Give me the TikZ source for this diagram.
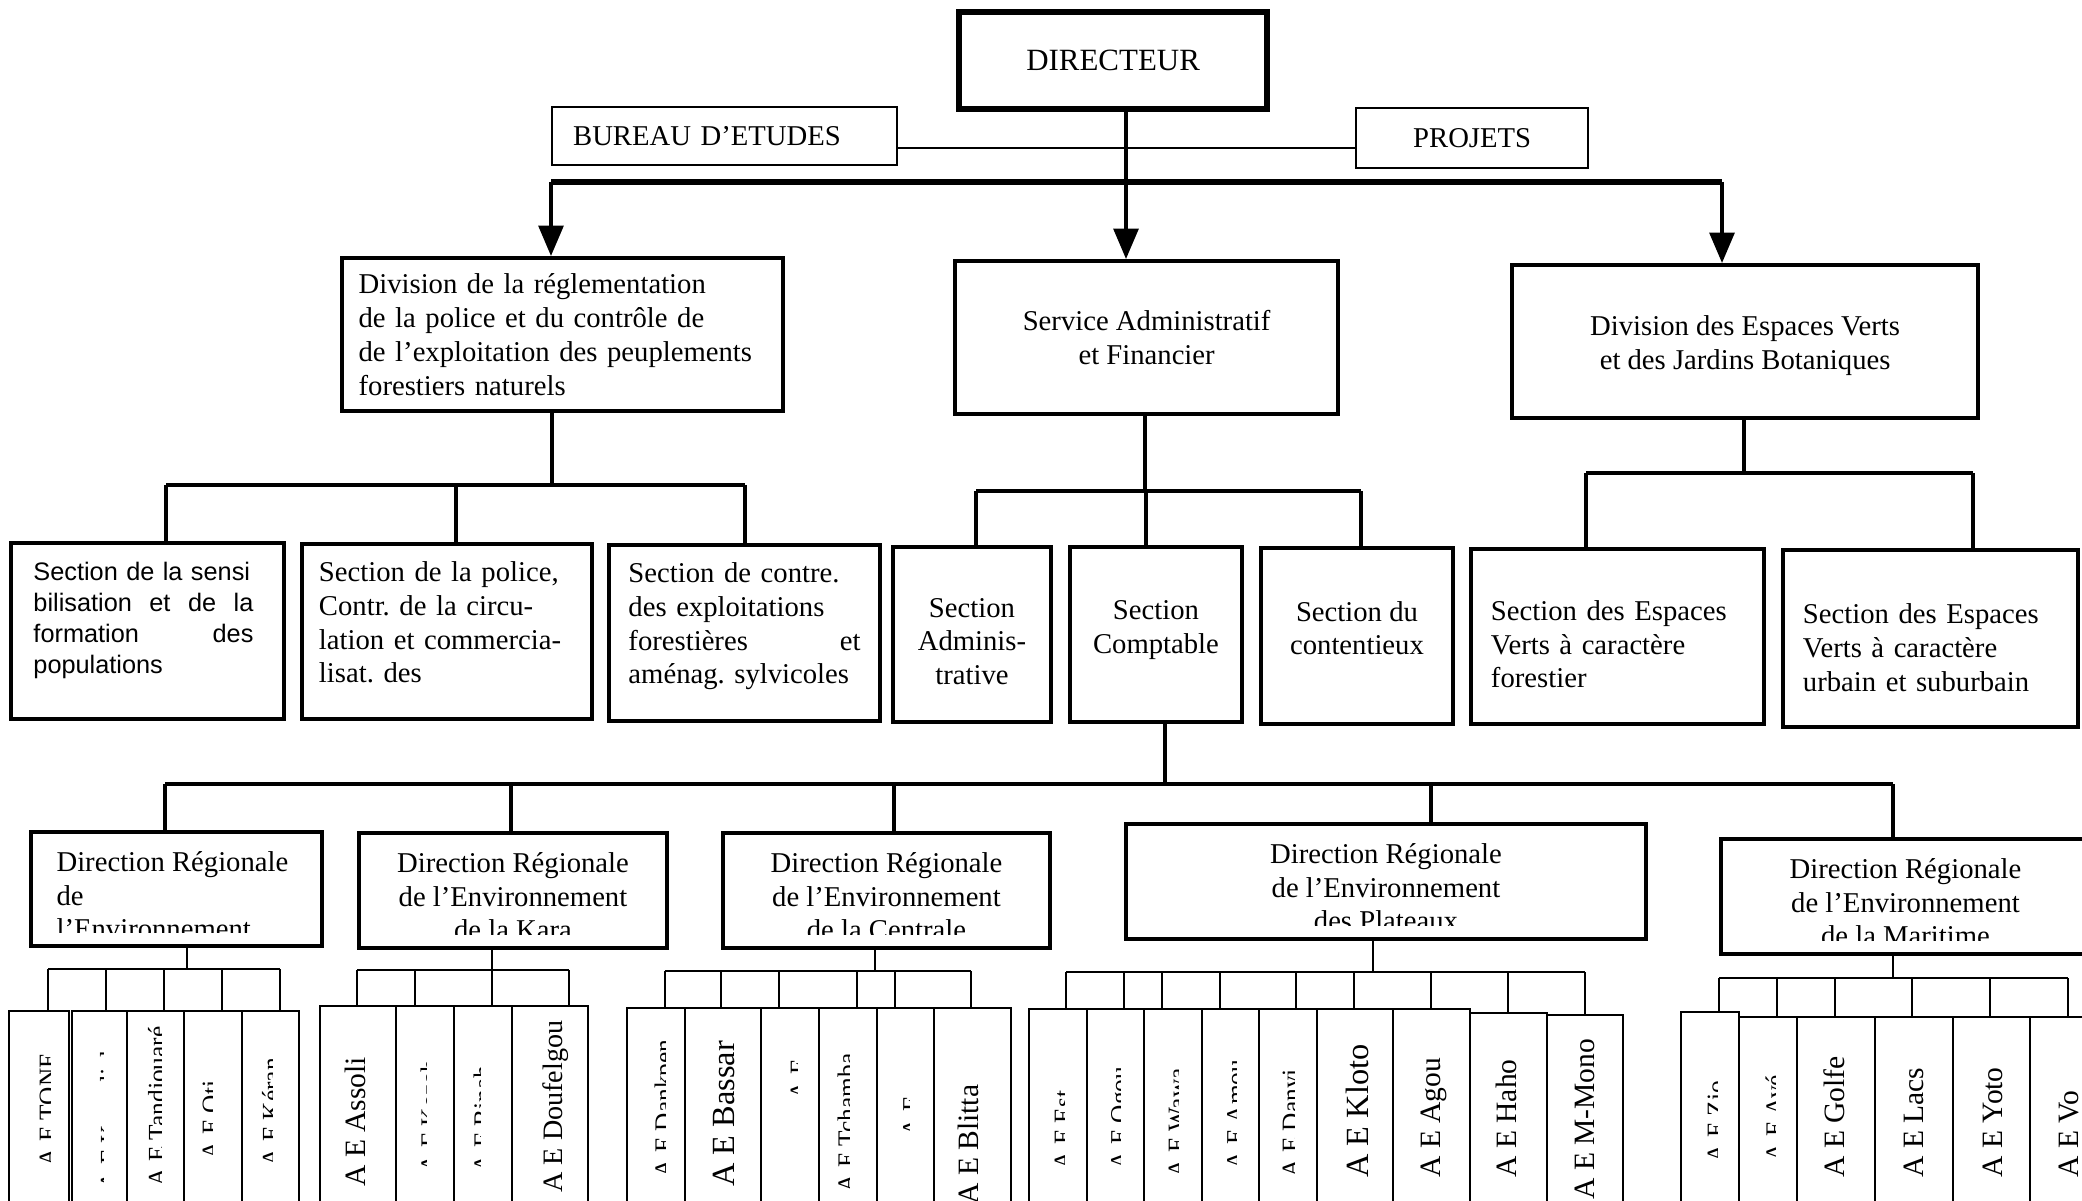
\documentclass[tikz,border=0pt]{standalone}
\usepackage{fontspec}
\setmainfont{Liberation Serif}
\newfontfamily\arialfont{Liberation Sans}
\usetikzlibrary{arrows.meta,calc}
\tikzset{
  boite/.style={draw, anchor=north west, line width=1.4pt, inner sep=2pt, font=\fontsize{10.2}{12}\selectfont},
  drtxt/.style={anchor=north, align=center, inner sep=0pt, font=\fontsize{10.2}{12}\selectfont},
  aebox/.style={draw, anchor=north west, line width=0.7pt, inner sep=0pt},
  aetxt/.style={rotate=90, anchor=north west, inner sep=0pt},
  fleche/.style={line width=1.3pt, -{Triangle[length=3.8mm, width=3.1mm]}},
  liaison/.style={line width=1.2pt},
  peigne/.style={line width=0.7pt}
}
\begin{document}
\frenchspacing
\begin{tikzpicture}[x=0.125mm, y=-0.125mm]
\useasboundingbox (0,0) rectangle (2082,1201);
\clip (0,0) rectangle (2082,1201);
% Direction et organes rattaches
\node[boite, line width=2.2pt, minimum width=3.85cm, minimum height=1.2125cm, font=\fontsize{11}{13}\selectfont] (dir) at (956,9) {DIRECTEUR};
\node[boite, line width=0.8pt, minimum width=4.3125cm, minimum height=0.725cm, text width=3.7875cm, inner xsep=0.2625cm, align=left] (bureau) at (551,106) {BUREAU D’ETUDES};
\node[boite, line width=0.8pt, minimum width=2.9cm, minimum height=0.75cm] (projets) at (1355,107) {PROJETS};
\coordinate (axe) at (1126,148);
\draw[line width=0.8pt] (axe -| bureau.east) -- (axe -| projets.west);
% Divisions et service
\node[boite, line width=1.5pt, minimum width=5.5125cm, minimum height=1.9125cm, text width=5.1cm, inner xsep=0.2cm, align=left] (reglem) at (340,256) {Division de la réglementation\\de la police et du contrôle de\\de l’exploitation des peuplements\\forestiers naturels};
\node[boite, line width=1.5pt, minimum width=4.7875cm, minimum height=1.9125cm, align=center] (service) at (953,259) {Service Administratif\\et Financier};
\node[boite, line width=1.5pt, minimum width=5.825cm, minimum height=1.9125cm, align=center] (espaces) at (1510,263) {\mbox{}\\[-2.2pt]Division des Espaces Verts\\et des Jardins Botaniques};
\coordinate (barre) at (1126,182);
\coordinate (barreG) at (551,182);
\coordinate (barreD) at (1722,182);
\draw[line width=1.3pt] (dir.south -| barre) -- (barre);
\draw[line width=2.1pt] (barreG) -- (barreD);
\draw[fleche] (barreG) -- (barreG |- reglem.north);
\draw[fleche] (barre) -- (barre |- service.north);
\draw[fleche] (barreD) -- (barreD |- espaces.north);
% Sections
\node[boite, minimum width=3.4125cm, minimum height=2.2cm, text width=2.85cm, inner xsep=0.28cm, align=left, font=\arialfont\fontsize{9}{11}\selectfont] (sens) at (9,541) {Section de la sensi\\\leavevmode\hbox to 2.75cm{bilisation\hfill et\hfill de\hfill la}\\\leavevmode\hbox to 2.75cm{formation\hfill des}\\populations\\[-1.5pt]\mbox{}};
\node[boite, minimum width=3.625cm, minimum height=2.1875cm, text width=3.2cm, inner xsep=0.2cm, align=left] (police) at (300,542) {Section de la police,\\Contr. de la circu-\\lation et commercia-\\lisat. des\\[-5.4pt]\mbox{}};
\node[boite, minimum width=3.3875cm, minimum height=2.2cm, text width=2.9cm, inner xsep=0.24cm, align=left] (controle) at (607,543) {Section de contre.\\des exploitations\\forestières\hfill et\\aménag. sylvicoles\\[-5.1pt]\mbox{}};
\node[boite, minimum width=1.975cm, minimum height=2.1875cm, align=center] (admin) at (891,545) {\mbox{}\\[-0.3pt]Section\\Adminis-\\trative};
\node[boite, minimum width=2.15cm, minimum height=2.1875cm, align=center] (compta) at (1068,545) {Section\\Comptable\\[-6.5pt]\mbox{}};
\node[boite, minimum width=2.4cm, minimum height=2.2cm, align=center] (contentieux) at (1259,546) {Section du\\contentieux\\[-6.3pt]\mbox{}};
\node[boite, minimum width=3.6625cm, minimum height=2.1875cm, text width=3.1625cm, inner xsep=0.25cm, align=left] (forest) at (1469,547) {\mbox{}\\[0.7pt]Section des Espaces\\Verts à caractère\\forestier};
\node[boite, minimum width=3.6875cm, minimum height=2.2125cm, text width=3.1875cm, inner xsep=0.25cm, align=left] (urbain) at (1781,548) {\mbox{}\\[1.6pt]Section des Espaces\\Verts à caractère\\urbain et suburbain};
\coordinate (rg) at (552,485);
\coordinate (rg1) at (166,485); \coordinate (rg2) at (456,485); \coordinate (rg3) at (745,485);
\coordinate (sv) at (1145,491);
\coordinate (sv1) at (976,491); \coordinate (sv2) at (1146,491); \coordinate (sv3) at (1361,491);
\coordinate (ev) at (1744,473);
\coordinate (ev1) at (1586,473); \coordinate (ev2) at (1973,473);
\draw[liaison] (reglem.south -| rg) -- (rg);
\draw[liaison] (service.south -| sv) -- (sv);
\draw[liaison] (espaces.south -| ev) -- (ev);
\draw[liaison] (rg1) -- (rg3);
\draw[liaison] (sv1) -- (sv3);
\draw[liaison] (ev1) -- (ev2);
\foreach \c/\b in {rg1/sens, rg2/police, rg3/controle, sv1/admin, sv2/compta, sv3/contentieux, ev1/forest, ev2/urbain}
  \draw[liaison] (\c) -- (\c |- \b.north);
% Directions regionales
\node[boite, minimum width=3.6375cm, minimum height=1.425cm] (drsav) at (29,830) {};
\node[boite, minimum width=3.85cm, minimum height=1.4375cm] (drkara) at (357,831) {};
\node[boite, minimum width=4.0875cm, minimum height=1.4375cm] (drcent) at (721,831) {};
\node[boite, minimum width=6.5cm, minimum height=1.4375cm] (drplat) at (1124,822) {};
\node[boite, minimum width=4.6125cm, minimum height=1.4375cm] (drmar) at (1719,837) {};
\begin{scope}
  \clip ([yshift=1.9mm]drsav.south west) rectangle (drsav.north east);
  \node[drtxt, anchor=north west, align=left] (drsav-t) at ([xshift=3.375mm, yshift=-2.6mm]drsav.north west) {Direction Régionale\\de\\l’Environnement};
\end{scope}
\foreach \b/\lab in {drkara/de la Kara, drcent/de la Centrale, drplat/des Plateaux, drmar/de la Maritime}{
  \begin{scope}
    \clip ([yshift=1.9mm]\b.south west) rectangle (\b.north east);
    \node[drtxt] (\b-t) at ([yshift=-2.6mm]\b.north) {Direction Régionale\\de l’Environnement\\\lab};
  \end{scope}
}
\coordinate (ct) at (1165,784);
\coordinate (d1) at (165,784); \coordinate (d2) at (511,784); \coordinate (d3) at (894,784);
\coordinate (d4) at (1431,784); \coordinate (d5) at (1893,784);
\draw[liaison] (compta.south -| ct) -- (ct);
\draw[liaison] (d1) -- (d5);
\foreach \c/\b in {d1/drsav, d2/drkara, d3/drcent, d4/drplat, d5/drmar}
  \draw[liaison] (\c) -- (\c |- \b.north);
% Antennes de l'environnement
\foreach \n/\xa/\xb/\yt/\yc/\xd/\tx/\ys/\cut/\fs/\lab in {
  sav1/8/68/1010/969/48/1/1167/11/9/A E TONE,
  sav2/71/126/1010/969/106/1/1190/4/9/A E Kpendjal,
  sav3/126/183/1010/969/164/-7/1187/14/9/A E Tandjouaré,
  sav4/183/241/1010/969/222/-10/1160/10/9/A E Oti,
  sav5/241/298/1010/969/280/-8/1167/11/9/A E Kéran,
  kar1/319/395/1005/970/357/-13/1187/40/10.5/A E Assoli,
  kar2/395/453/1005/970/415/-4/1173/6/9/A E Kozah,
  kar3/453/511/1005/970/492/-9/1173/7/9/A E Binah,
  kar4/511/587/1005/970/569/-7/1193/40/10/A E Doufelgou,
  cen1/626/684/1007/971/665/-1/1178/11/9/A E Dankpen,
  cen2/684/760/1007/971/721/-9/1187/40/11.5/A E Bassar,
  cen3/760/818/1007/971/779/1/1100/7/9/A E,
  cen4/818/876/1007/971/857/-10/1193/12/9/A E Tchamba,
  cen5/876/933/1007/971/895/-2/1137/7/9/A E,
  cen6/933/1010/1007/971/971/-14/1205/40/10.5/A E Blitta,
  pla1/1028/1086/1008/972/1066/-3/1170/10/9/A E Est,
  pla2/1086/1143/1008/972/1124/-4/1170/10/9/A E Ogou,
  pla3/1143/1201/1008/972/1162/-4/1178/10/9/A E Wawa,
  pla4/1201/1258/1008/972/1220/-3/1170/10/9/A E Amou,
  pla5/1258/1316/1008/972/1296/-5/1178/12/9/A E Danyi,
  pla6/1316/1392/1008/972/1354/-9/1178/40/11.5/A E Kloto,
  pla7/1392/1469/1008/972/1431/-10/1178/40/10.5/A E Agou,
  pla8/1469/1546/1012/972/1508/-12/1178/40/10.5/A E Haho,
  pla9/1546/1622/1014/972/1585/-10/1200/40/10.5/A E M-Mono,
  mar1/1680/1738/1011/978/1719/-2/1163/10/9/A E Zio,
  mar2/1738/1796/1016/978/1777/-2/1162/10/9/A E Avé,
  mar3/1796/1874/1016/978/1835/-12/1178/40/10.5/A E Golfe,
  mar4/1874/1952/1016/978/1912/-10/1178/40/10.5/A E Lacs,
  mar5/1952/2029/1016/978/1990/-8/1178/40/10.5/A E Yoto,
  mar6/2029/2107/1016/978/2068/-10/1178/40/10.5/A E Vo}{
  \pgfmathsetmacro\lw{(\xb-\xa)/80}
  \pgfmathsetmacro\lh{(1215-\yt)/80}
  \node[aebox, minimum width=\lw cm, minimum height=\lh cm] (\n) at (\xa,\yt) {};
  \coordinate (\n-c) at (\xd,\yc);
  \draw[peigne] (\n-c) -- (\n-c |- \n.north);
  \begin{scope}
    \clip (\n.north west) rectangle ({(\xa+\xb)/2+\tx+\cut},1201);
    \node[aetxt, font=\fontsize{\fs}{12}\selectfont] (\n-t) at ({(\xa+\xb)/2+\tx},\ys) {\lab};
  \end{scope}
}
\coordinate (savj) at (187,969);
\coordinate (karj) at (492,970);
\coordinate (cenj) at (875,971);
\coordinate (plaj) at (1373,972);
\coordinate (marj) at (1893,978);
\draw[peigne] (sav1-c) -- (sav5-c);
\draw[peigne] (kar1-c) -- (kar4-c);
\draw[peigne] (cen1-c) -- (cen6-c);
\draw[peigne] (pla1-c) -- (pla9-c);
\draw[peigne] (mar1-c) -- (mar6-c);
\foreach \j/\b in {savj/drsav, karj/drkara, cenj/drcent, plaj/drplat, marj/drmar}
  \draw[peigne] (\j |- \b.south) -- (\j);
\end{tikzpicture}
\end{document}
